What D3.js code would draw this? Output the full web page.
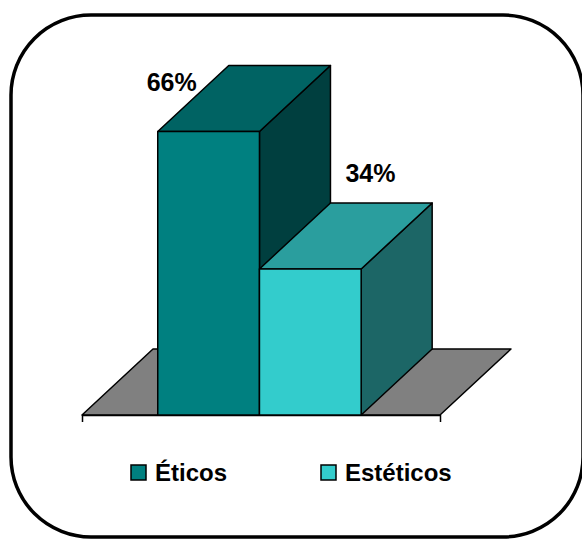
<!DOCTYPE html>
<html>
<head>
<meta charset="utf-8">
<script src="https://cdn.jsdelivr.net/npm/d3@7/dist/d3.min.js"></script>
<style>
  html, body { margin: 0; padding: 0; background: #fff; }
  svg { display: block; }
</style>
</head>
<body>
<svg id="chart" width="582" height="540"></svg>
<script>
// ---- data ----
const categories = ["Éticos", "Estéticos"];
const values = [66, 34];
const valueLabels = ["66%", "34%"];

// ---- colours / layout (not data) ----
const frontColors = ["#008080", "#33CCCC"];
const topColors = ["#006363", "#2A9E9E"];
const sideColors = ["#003F3F", "#1C6666"];
const labelNudge = [[-57, 25], [40, -21]];

const svg = d3.select("#chart");

// frame
svg.append("rect")
  .attr("x", 11).attr("y", 15)
  .attr("width", 572).attr("height", 522)
  .attr("rx", 80).attr("ry", 80)
  .attr("fill", "#fff").attr("stroke", "#000").attr("stroke-width", 3.5);

const x = d3.scaleBand().domain(categories).range([82, 440])
  .paddingInner(0).paddingOuter(0.76).align(0.49);
const y = d3.scaleLinear().domain([0, 70]).range([415, 415 - 70 * (415 - 131.5) / 66]);
const dx = 71, dy = -66;
const base = y(0);
const [x0, x1] = x.range();

// floor
svg.append("polygon")
  .attr("points", [[x0, base], [x0 + dx, base + dy], [x1 + dx, base + dy], [x1, base]].map(p => p.join(",")).join(" "))
  .attr("fill", "#808080").attr("stroke", "#000").attr("stroke-width", 1.5).attr("stroke-linejoin", "round");

// axis line + end ticks
const axis = d3.axisBottom(x).tickValues([]).tickSizeOuter(7);
svg.append("g").attr("transform", `translate(0,${base})`).call(axis)
  .call(g => g.select(".domain").attr("stroke", "#000").attr("stroke-width", 1.5));

// bars
categories.forEach((c, i) => {
  const bx = x(c), bw = x.bandwidth(), ty = y(values[i]);
  const g = svg.append("g");
  const poly = (pts, fill) => g.append("polygon")
    .attr("points", pts.map(q => q.join(",")).join(" "))
    .attr("fill", fill).attr("stroke", "#000")
    .attr("stroke-width", 1.5).attr("stroke-linejoin", "round");
  poly([[bx + bw, ty], [bx + bw + dx, ty + dy], [bx + bw + dx, base + dy], [bx + bw, base]], sideColors[i]);
  poly([[bx, ty], [bx + dx, ty + dy], [bx + bw + dx, ty + dy], [bx + bw, ty]], topColors[i]);
  poly([[bx, ty], [bx + bw, ty], [bx + bw, base], [bx, base]], frontColors[i]);
});

// value labels
categories.forEach((c, i) => {
  svg.append("text")
    .attr("x", x(c) + dx + labelNudge[i][0])
    .attr("y", y(values[i]) + dy + labelNudge[i][1])
    .attr("text-anchor", "middle")
    .attr("font-family", "Liberation Sans, Arial, sans-serif")
    .attr("font-weight", "bold").attr("font-size", 25)
    .attr("fill", "#000")
    .text(valueLabels[i]);
});

// legend
const legendX = [131, 321];
categories.forEach((c, i) => {
  svg.append("rect")
    .attr("x", legendX[i]).attr("y", 465).attr("width", 15).attr("height", 15)
    .attr("fill", frontColors[i]).attr("stroke", "#000").attr("stroke-width", 1.5);
  svg.append("text")
    .attr("x", legendX[i] + 24).attr("y", 481)
    .attr("font-family", "Liberation Sans, Arial, sans-serif")
    .attr("font-weight", "bold").attr("font-size", 24)
    .attr("fill", "#000")
    .text(c);
});
</script>
</body>
</html>
